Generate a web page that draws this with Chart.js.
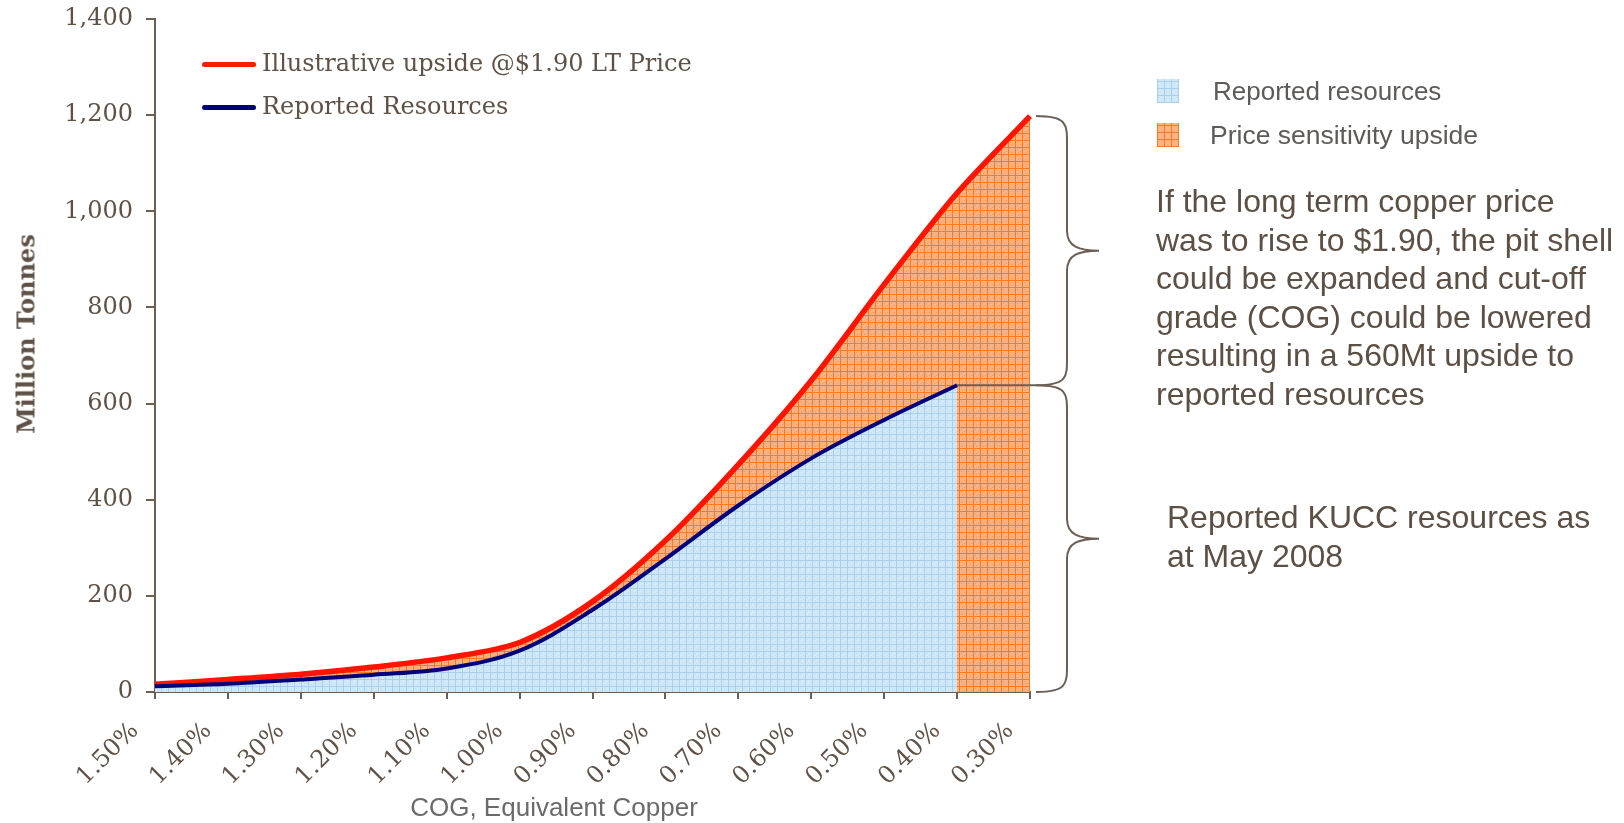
<!DOCTYPE html>
<html>
<head>
<meta charset="utf-8">
<script src="https://cdn.jsdelivr.net/npm/chart.js@4/dist/chart.umd.min.js"></script>
<style>
  body { margin: 0; background: #fff; }
  #wrap { position: relative; width: 1624px; height: 823px; overflow: hidden; }
  #wrap canvas { position: absolute; left: 0; top: 0; }
  .txt { position: absolute; white-space: nowrap; }
  .serif { font-family: "DejaVu Serif", serif; color: #5f5145; }
  .sans { font-family: "Liberation Sans", Arial, sans-serif; }
  .legline { position: absolute; height: 5px; border-radius: 3px; }
  .sq { position: absolute; width: 22px; height: 24px; }
</style>
</head>
<body>
<div id="wrap">
  <canvas id="chart" width="1624" height="823"></canvas>

  <!-- top-left legend -->
  <div class="legline" style="left:202px; top:62px; width:54px; background:#ff1a00;"></div>
  <div class="txt serif" style="left:262px; top:49px; font-size:24px;">Illustrative upside @$1.90 LT Price</div>
  <div class="legline" style="left:202px; top:105px; width:54px; background:#00007a;"></div>
  <div class="txt serif" style="left:262px; top:92px; font-size:24px;">Reported Resources</div>

  <!-- axis titles -->
  <div class="txt serif" style="left:26px; top:334px; font-size:24px; font-weight:bold; transform: translate(-50%, -50%) rotate(-90deg);">Million Tonnes</div>
  <div class="txt sans" style="left:554px; top:807px; font-size:26px; color:#6a6a6a; transform: translate(-50%, -50%);">COG, Equivalent Copper</div>

  <!-- right legend -->
  <div class="sq" id="sqBlue" style="left:1157px; top:79px;"></div>
  <div class="txt sans" style="left:1213px; top:76px; font-size:26px; color:#5d5a57;">Reported resources</div>
  <div class="sq" id="sqOrange" style="left:1157px; top:123px;"></div>
  <div class="txt sans" style="left:1210px; top:120px; font-size:26.5px; color:#5d5a57;">Price sensitivity upside</div>

  <!-- annotations -->
  <div class="txt sans" style="left:1156px; top:182px; font-size:32px; line-height:38.5px; color:#5c4f44;">If the long term copper price<br>was to rise to $1.90, the pit shell<br>could be expanded and cut-off<br>grade (COG) could be lowered<br>resulting in a 560Mt upside to<br>reported resources</div>
  <div class="txt sans" style="left:1167px; top:498px; font-size:32px; line-height:39px; color:#5c4f44;">Reported KUCC resources as<br>at May 2008</div>
</div>

<script>
// chart data
const grades = ['1.50%', '1.40%', '1.30%', '1.20%', '1.10%', '1.00%', '0.90%', '0.80%', '0.70%', '0.60%', '0.50%', '0.40%', '0.30%'];
const upsideTonnes = [16, 26, 37, 52, 71, 103, 188, 315, 473, 648, 848, 1038, 1198];
const reportedTonnes = [12, 17, 26, 36, 49, 86, 171, 277, 388, 486, 566, 638, null];
const yTicks = [0, 200, 400, 600, 800, 1000, 1200, 1400];

const AXIS = '#6b5e52';
const TEXT = '#5f5145';

// hatched grid fill, like the old excel pattern
function makePattern(base, line, dot) {
    const c = document.createElement('canvas');
    c.width = 7; c.height = 7;
    const g = c.getContext('2d');
    g.fillStyle = base;
    g.fillRect(0, 0, 7, 7);
    g.fillStyle = dot;
    g.fillRect(2, 2, 1, 1);
    g.fillRect(5, 4, 1, 1);
    g.fillRect(3, 5, 1, 1);
    g.fillStyle = line;
    g.fillRect(0, 0, 7, 1);
    g.fillRect(0, 0, 1, 7);
    return g.createPattern(c, 'repeat');
}

const bluePattern = makePattern('#d2e8f7', '#a6d0ee', '#bcdcf2');
const orangePattern = makePattern('#fdb283', '#fa7a22', '#fc9a5a');

// swatches for the html legend
function paintSwatch(id, base, line) {
    const el = document.getElementById(id);
    el.style.background =
        `repeating-linear-gradient(0deg, ${line} 0 1px, transparent 1px 7px),` +
        `repeating-linear-gradient(90deg, ${line} 0 1px, transparent 1px 7px), ${base}`;
}
paintSwatch('sqBlue', '#d2e8f7', '#a6d0ee');
paintSwatch('sqOrange', '#fdb283', '#fa7a22');

// curly braces on the right, anchored to data values
const bracePlugin = {
    id: 'braces',
    afterDraw(chart) {
        const { ctx, scales: { x, y } } = chart;
        const last = grades.length - 1;
        const xr = x.getPixelForValue(last);
        const yTop = y.getPixelForValue(upsideTonnes[last]);
        const yMid = y.getPixelForValue(reportedTonnes[last - 1]);
        const yBot = y.getPixelForValue(0);
        const x0 = xr + 6, x1 = xr + 37, x2 = xr + 69;

        function brace(ya, yb) {
            const ym = (ya + yb) / 2;
            const r = 27, rt = 20;
            ctx.beginPath();
            ctx.moveTo(x0, ya);
            ctx.bezierCurveTo(x1, ya, x1, ya + 8, x1, ya + r);
            ctx.lineTo(x1, ym - rt);
            ctx.bezierCurveTo(x1, ym - 4, x1 + 12, ym, x2, ym);
            ctx.bezierCurveTo(x1 + 12, ym, x1, ym + 4, x1, ym + rt);
            ctx.lineTo(x1, yb - r);
            ctx.bezierCurveTo(x1, yb - 8, x1, yb, x0, yb);
            ctx.stroke();
        }

        ctx.save();
        ctx.strokeStyle = AXIS;
        ctx.lineWidth = 2;
        brace(yTop, yMid);
        brace(yMid, yBot);
        // connector from the end of reported resources
        ctx.beginPath();
        ctx.moveTo(x.getPixelForValue(last - 1), yMid);
        ctx.lineTo(x0, yMid);
        ctx.stroke();
        ctx.restore();
    }
};

new Chart(document.getElementById('chart'), {
    type: 'line',
    data: {
        labels: grades,
        datasets: [
            {
                label: 'Reported Resources',
                data: reportedTonnes,
                borderColor: '#00007a',
                backgroundColor: bluePattern,
                borderWidth: 4,
                fill: 'origin',
                tension: 0.35,
                pointRadius: 0,
                spanGaps: false
            },
            {
                label: 'Illustrative upside @$1.90 LT Price',
                data: upsideTonnes,
                borderColor: '#ff1400',
                backgroundColor: orangePattern,
                borderWidth: 5.5,
                fill: 'origin',
                tension: 0.3,
                pointRadius: 0
            }
        ]
    },
    options: {
        responsive: false,
        animation: false,
        devicePixelRatio: 1,
        layout: { padding: { left: 0, right: 594, top: 0, bottom: 0 } },
        plugins: {
            legend: { display: false },
            tooltip: { enabled: false }
        },
        scales: {
            x: {
                offset: false,
                grid: { drawOnChartArea: false, drawTicks: true, tickLength: 7, color: AXIS, lineWidth: 2 },
                border: { color: AXIS, width: 2 },
                ticks: {
                    color: TEXT,
                    font: { family: 'DejaVu Serif', size: 24 },
                    minRotation: 45,
                    maxRotation: 45,
                    autoSkip: false,
                    padding: 18,
                    labelOffset: -20
                },
                afterFit(scale) { scale.height = 131; }
            },
            y: {
                min: 0,
                max: 1400,
                afterBuildTicks(scale) { scale.ticks = yTicks.map(v => ({ value: v })); },
                grid: { drawOnChartArea: false, drawTicks: true, tickLength: 9, color: AXIS, lineWidth: 2 },
                border: { color: AXIS, width: 2 },
                ticks: {
                    color: TEXT,
                    font: { family: 'DejaVu Serif', size: 24 },
                    padding: 13,
                    callback: v => v.toLocaleString('en-US')
                },
                afterFit(scale) {
                    scale.width = 155;
                    scale.paddingTop = 19;
                    scale.paddingBottom = 0;
                }
            }
        }
    },
    plugins: [bracePlugin]
});
</script>
</body>
</html>
